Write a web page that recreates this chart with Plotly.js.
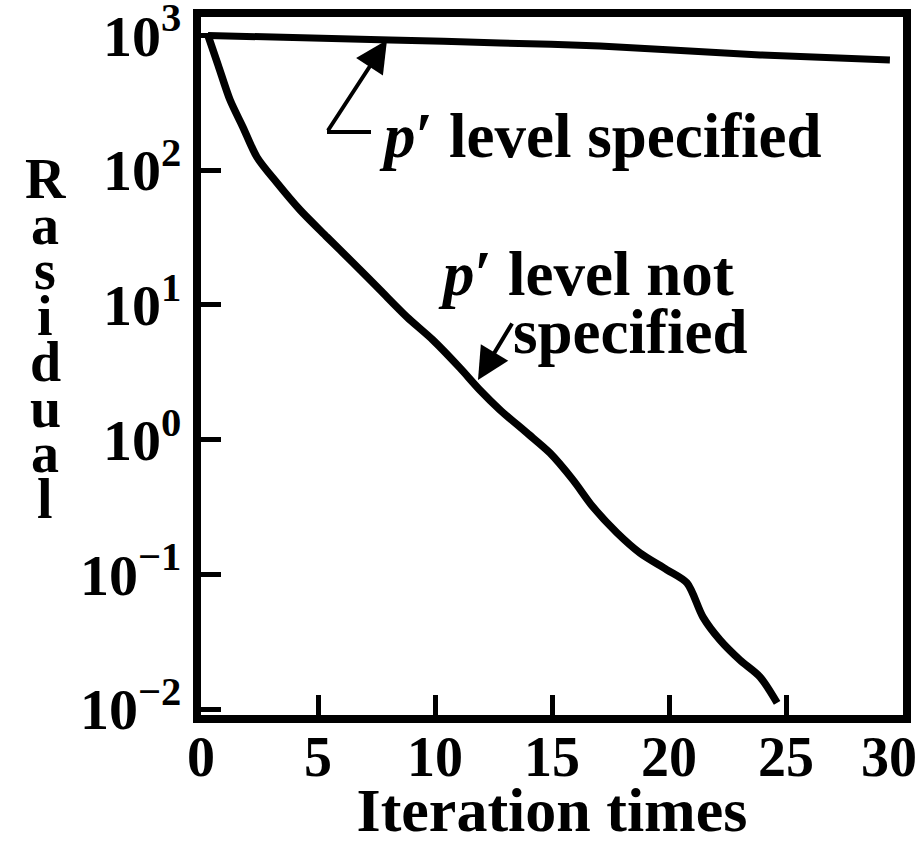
<!DOCTYPE html>
<html><head><meta charset="utf-8">
<script src="https://cdn.plot.ly/plotly-3.0.1.min.js"></script>
<style>html,body{margin:0;padding:0;background:#fff;}</style>
</head><body>
<div id="chart" style="width:924px;height:844px;"></div>
<script>
// ---- data ----
const iterSpecified = [0.3, 8.08, 12.78, 17.05, 23.89, 29.44];
const residualSpecified = [1000, 927, 880, 836, 717, 658];
const iterNotSpecified = [0.3, 0.73, 1.24, 1.79, 2.39, 3.25, 4.23, 5.38, 6.50, 7.65, 8.80, 9.91, 11.07, 11.92, 12.78, 13.93, 14.91, 15.90, 16.75, 17.78, 18.76, 19.91, 20.77, 21.45, 22.18, 23.03, 23.89, 24.62];
const residualNotSpecified = [1000, 604, 332, 209, 125, 80.4, 50.7, 31.9, 20.5, 12.9, 8.13, 5.49, 3.40, 2.33, 1.66, 1.12, 0.796, 0.501, 0.316, 0.203, 0.144, 0.108, 0.0861, 0.0482, 0.0325, 0.0231, 0.0173, 0.0111];
const xTickVals = [0, 5, 10, 15, 20, 25, 30];
const xTickText = ['0', '5', '10', '15', '20', '25', '30\u00a0\u00a0'];
const yTickVals = [0.01, 0.1, 1, 10, 100, 1000];
const yTickText = ['10<sup>−2</sup>', '10<sup>−1</sup>', '10<sup>0</sup>', '10<sup>1</sup>', '10<sup>2</sup>', '10<sup>3</sup>'];
const xTitle = 'Iteration times';
const yTitle = 'Rasidual';
const labelSpecified = '<i>p</i>′ level specified';
const labelNotSpecified1 = '<i>p</i>′ level not';
const labelNotSpecified2 = 'specified';

// ---- layout geometry ----
const W = 924, H = 844, L = 201, R = 21, T = 17, B = 129;
const PW = W - L - R, PH = H - T - B;
const px = v => (v - L) / PW;
const py = v => (H - B - v) / PH;
const FONT = 'Liberation Serif, Times New Roman, serif';
const ink = '#000';

const traces = [
  {x: iterSpecified, y: residualSpecified, mode: 'lines', name: 'p′ level specified',
   line: {color: ink, width: 7, shape: 'spline', smoothing: 0.6}, showlegend: false},
  {x: iterNotSpecified, y: residualNotSpecified, mode: 'lines', name: 'p′ level not specified',
   line: {color: ink, width: 7.5, shape: 'spline', smoothing: 0.8}, showlegend: false}
];

const annotations = [];
// text labels
annotations.push({xref: 'paper', yref: 'paper', x: px(377), y: py(136), xanchor: 'left', yanchor: 'middle',
  text: '<b>' + labelSpecified + '</b>', showarrow: false, font: {family: FONT, size: 63, color: ink}});
annotations.push({xref: 'paper', yref: 'paper', x: px(436), y: py(274), xanchor: 'left', yanchor: 'middle',
  text: '<b>' + labelNotSpecified1 + '</b>', showarrow: false, font: {family: FONT, size: 63, color: ink}});
annotations.push({xref: 'paper', yref: 'paper', x: px(511), y: py(332), xanchor: 'left', yanchor: 'middle',
  text: '<b>' + labelNotSpecified2 + '</b>', showarrow: false, font: {family: FONT, size: 63, color: ink}});
// arrows
annotations.push({xref: 'paper', yref: 'paper', x: px(387), y: py(40), ax: -60, ay: 92, text: '',
  showarrow: true, arrowhead: 2, arrowsize: 1.6, arrowwidth: 4, arrowcolor: ink, standoff: 0});
annotations.push({xref: 'paper', yref: 'paper', x: px(478), y: py(380), ax: 35, ay: -58, text: '',
  showarrow: true, arrowhead: 2, arrowsize: 1.6, arrowwidth: 4, arrowcolor: ink, standoff: 0});
// stacked y-axis title (one upright letter per line, as in the reference)
yTitle.split('').forEach((ch, i) => {
  annotations.push({xref: 'paper', yref: 'paper', x: px(45), y: py(197 + 45.7 * i - 18), xanchor: 'center', yanchor: 'middle',
    text: '<b>' + ch + '</b>', showarrow: false, font: {family: FONT, size: 56, color: ink}});
});

const shapes = [
  {type: 'line', xref: 'paper', yref: 'paper', x0: px(327), x1: px(371), y0: py(132), y1: py(132),
   line: {color: ink, width: 4}}
];

const layout = {
  width: W, height: H,
  margin: {l: L, r: R, t: T, b: B, pad: 0},
  paper_bgcolor: '#fff', plot_bgcolor: '#fff',
  font: {family: FONT, color: ink},
  showlegend: false,
  xaxis: {
    range: [0, 30], tickvals: xTickVals, ticktext: xTickText,
    ticks: 'inside', ticklen: 20, tickwidth: 5, tickcolor: ink,
    showline: true, linewidth: 8, linecolor: ink, mirror: true,
    showgrid: false, zeroline: false, automargin: false,
    ticklabeloverflow: 'allow', ticklabelstandoff: -14,
    tickfont: {family: FONT, size: 56, color: ink, weight: 'bold'},
    title: {text: '<b>' + xTitle + '</b>', font: {family: FONT, size: 62, color: ink}, standoff: 31}
  },
  yaxis: {
    type: 'log', range: [-2.0445, 3.137], tickvals: yTickVals, ticktext: yTickText,
    ticks: 'inside', ticklen: 20, tickwidth: 5, tickcolor: ink,
    showline: true, linewidth: 8, linecolor: ink, mirror: true,
    showgrid: false, zeroline: false, automargin: false,
    ticklabeloverflow: 'allow',
    tickfont: {family: FONT, size: 58, color: ink, weight: 'bold'}
  },
  annotations: annotations,
  shapes: shapes
};

Plotly.newPlot('chart', traces, layout, {displayModeBar: false, staticPlot: true});
</script>
</body></html>
